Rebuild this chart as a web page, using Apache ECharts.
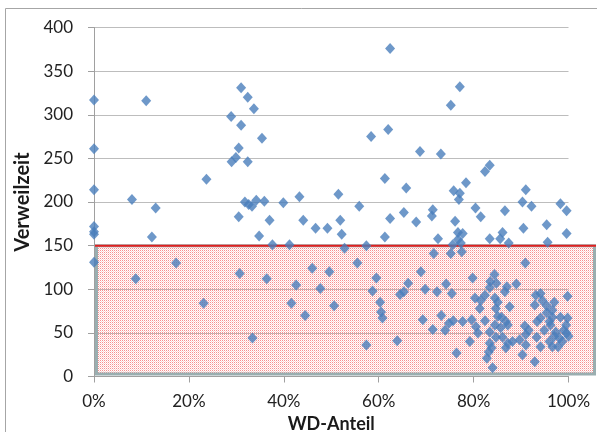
<!DOCTYPE html>
<html>
<head>
<meta charset="utf-8">
<script src="https://cdn.jsdelivr.net/npm/echarts@6/dist/echarts.min.js"></script>
<style>
html,body{margin:0;padding:0;background:#fff;}
#c{width:597px;height:432px;}
</style>
</head>
<body>
<div id="c"></div>
<script>
// WD-Anteil in percent
const wdAnteil = [
0,0,0,0,0,0,0,
8.0,11.0,13.0,12.2,8.8,17.3,23.1,23.7,
28.9,31.0,32.4,33.7,31.0,30.5,29.0,29.9,32.4,35.4,
30.5,31.8,32.6,33.3,34.2,35.9,37.0,34.8,37.6,39.9,41.2,43.3,
30.7,36.4,33.4,41.6,42.6,44.5,46.0,47.7,49.6,50.6,
44.1,46.7,49.2,51.5,51.9,52.2,52.8,55.9,57.4,
55.5,57.4,58.7,59.5,60.3,60.5,60.8,
58.4,62.4,62.0,61.3,61.3,62.4,65.3,65.8,67.9,68.7,
63.9,64.5,65.3,66.2,68.9,69.3,69.8,
71.4,71.2,73.1,72.5,71.6,
71.4,72.3,73.2,74.0,74.8,75.7,74.2,75.4,76.4,77.7,79.2,79.6,79.8,80.3,81.3,81.5,80.5,80.9,
75.2,77.1,76.1,75.8,77.1,76.9,78.4,76.7,77.7,76.7,75.6,77.3,75.2,77.5,
80.4,81.5,82.4,83.4,83.4,85.6,86.1,86.6,87.4,
90.3,91.0,92.2,90.5,95.4,95.6,98.3,99.6,99.6,
82.4,82.4,82.8,83.2,84.0,84.4,83.5,83.4,84.5,84.8,85.1,84.7,85.1,85.9,86.8,85.7,84.5,83.4,84.7,86.1,83.4,83.8,86.8,87.2,88.2,86.6,87.0,89.0,87.6,87.2,
89.7,90.3,90.9,91.0,91.0,90.8,91.6,92.9,92.9,93.1,94.1,93.4,93.3,94.5,94.1,94.9,95.4,95.4,94.1,96.0,96.2,96.0,96.6,96.6,97.0,97.0,97.3,96.6,97.8,98.1,98.3,98.7,99.0,99.8,99.8,99.5,100,99.6
];
// Verweilzeit
const verweilzeit = [
317,261,214,172,166,163,131,
203,316,193,160,112,130,84,226,
298,331,320,307,288,262,246,251,246,273,
183,200,197,195,202,201,179,161,151,199,151,206,
118,112,44,84,105,70,124,101,120,81,
179,170,170,209,179,163,147,195,150,
130,36,98,113,85,74,67,
275,376,283,227,160,181,188,216,177,258,
41,94,97,107,120,65,100,
191,184,255,158,141,
54,97,70,53,61,64,106,95,27,63,40,65,113,90,78,87,57,50,
311,332,178,213,210,203,222,165,164,157,151,153,141,143,
193,183,235,242,158,158,165,190,153,
200,214,195,170,174,154,198,190,164,
93,64,21,28,10,117,109,102,90,107,85,78,69,68,63,56,59,51,45,45,38,33,33,38,40,97,103,106,80,59,
42,25,130,48,36,58,53,82,17,93,95,63,45,87,67,53,73,81,34,40,59,63,68,76,85,46,51,34,34,44,68,40,53,92,67,59,46,50
];
const yTicks = [0, 400, 50];   // min, max, interval
const xTicks = [0, 100, 20];
const threshold = 150;

const points = wdAnteil.map((x, i) => [x, verweilzeit[i]]);

const chart = echarts.init(document.getElementById('c'), null, {renderer: 'canvas'});
const FONT = 'Lato, "Open Sans", sans-serif';

const option = {
  animation: false,
  backgroundColor: '#fff',
  grid: {left: 94, right: 28.5, top: 27.5, bottom: 55.5, containLabel: false, outerBoundsMode: 'none'},
  xAxis: {
    type: 'value', min: xTicks[0], max: xTicks[1], interval: xTicks[2],
    name: 'WD-Anteil', nameLocation: 'middle', nameGap: 37,
    nameTextStyle: {fontFamily: FONT, fontWeight: 'bold', fontSize: 18, color: '#1a1a1a'},
    axisLine: {show: true, lineStyle: {color: '#a0a0a0'}},
    axisTick: {show: true, length: 6, lineStyle: {color: '#a0a0a0'}},
    axisLabel: {formatter: '{value}%', fontFamily: FONT, fontSize: 17, color: '#222', margin: 17},
    splitLine: {show: false}
  },
  yAxis: {
    type: 'value', min: yTicks[0], max: yTicks[1], interval: yTicks[2],
    name: 'Verweilzeit', nameLocation: 'middle', nameGap: 58, nameRotate: 90,
    nameTextStyle: {fontFamily: FONT, fontWeight: 'bold', fontSize: 20, color: '#1a1a1a'},
    axisLine: {show: true, lineStyle: {color: '#a0a0a0'}},
    axisTick: {show: true, length: 6, lineStyle: {color: '#a0a0a0'}},
    axisLabel: {fontFamily: FONT, fontSize: 17, color: '#222', margin: 21},
    splitLine: {show: true, lineStyle: {color: '#bdbdbd', width: 1}}
  },
  series: [{
    type: 'scatter',
    z: 5,
    symbol: 'diamond',
    symbolSize: [10, 11],
    itemStyle: {color: '#4A7EBB'},
    data: points
  }]
};
chart.setOption(option);

// dotted pink pattern for the highlighted region
const pc = document.createElement('canvas');
pc.width = 2; pc.height = 2;
const pctx = pc.getContext('2d');
pctx.fillStyle = 'rgba(240,50,50,0.55)';
pctx.fillRect(0, 0, 1, 1);
pctx.fillStyle = 'rgba(250,110,110,0.30)';
pctx.fillRect(1, 1, 1, 1);

const pTopLeft = chart.convertToPixel({gridIndex: 0}, [xTicks[0], threshold]);
const pBottom = chart.convertToPixel({gridIndex: 0}, [xTicks[0], yTicks[0]]);
const W = chart.getWidth(), H = chart.getHeight();
const rx = pTopLeft[0] + 2.5, ry = pTopLeft[1], rw = W - 2.5 - rx, rh = pBottom[1] - 2.5 - ry;

chart.setOption({
  graphic: [
    {type: 'rect', z: 1, silent: true,
     shape: {x: rx, y: ry, width: rw, height: rh},
     style: {fill: {image: pc, repeat: 'repeat'}, stroke: '#9aaeb0', lineWidth: 3}},
    {type: 'line', z: 2, silent: true,
     shape: {x1: rx - 1.5, y1: ry, x2: rx + rw + 1.5, y2: ry},
     style: {stroke: '#e02020', lineWidth: 2}},
    {type: 'rect', z: 0, silent: true,
     shape: {x: 5.5, y: 8.5, width: 620, height: 450},
     style: {fill: null, stroke: '#a6a6a6', lineWidth: 1}}
  ]
});
</script>
</body>
</html>
